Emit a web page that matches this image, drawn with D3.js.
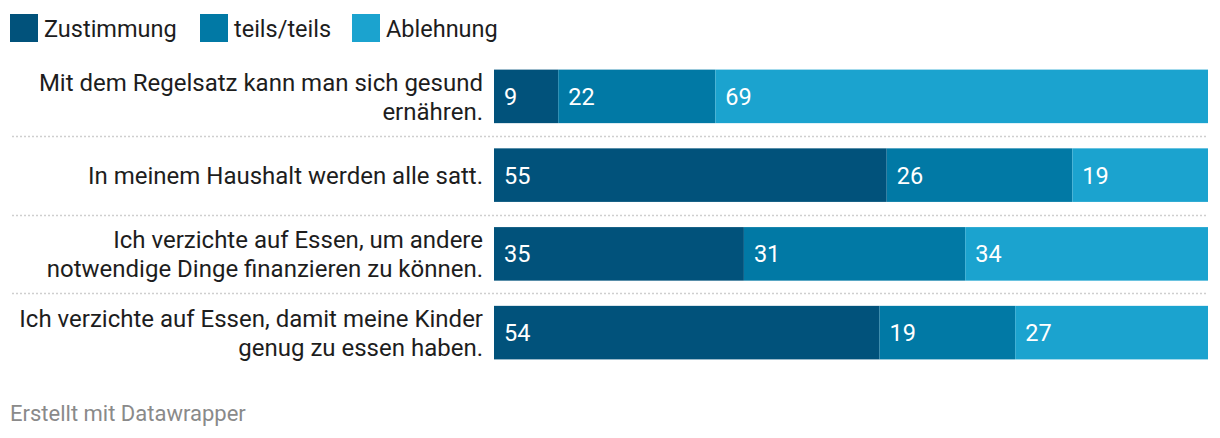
<!DOCTYPE html>
<html><head><meta charset="utf-8">
<script src="https://cdn.jsdelivr.net/npm/d3@7"></script>
<style>
html,body{margin:0;padding:0;background:#fff;}
svg{display:block;font-family:Roboto,"Noto Sans",sans-serif;}
</style></head>
<body>
<svg id="chart" width="1220" height="438"></svg>
<script>
const categories = [
  ["Mit dem Regelsatz kann man sich gesund", "ernähren."],
  ["In meinem Haushalt werden alle satt."],
  ["Ich verzichte auf Essen, um andere", "notwendige Dinge finanzieren zu können."],
  ["Ich verzichte auf Essen, damit meine Kinder", "genug zu essen haben."]
];
const seriesNames = ["Zustimmung", "teils/teils", "Ablehnung"];
const zustimmung = [9, 55, 35, 54];
const teils = [22, 26, 31, 19];
const ablehnung = [69, 19, 34, 27];
const colors = ["#01527b", "#0179a5", "#1ba3cf"];

const svg = d3.select("#chart");
const rows = categories.map((c, i) => ({ idx: i, label: c, vals: [zustimmung[i], teils[i], ablehnung[i]] }));

const x = d3.scaleLinear().domain([0, 100]).range([494, 1208]);
const y = d3.scaleBand().domain(d3.range(categories.length)).range([57, 372]).paddingInner(0.32).paddingOuter(0.16);

// legend
const legendX = [10, 200, 352];
const lg = svg.append("g");
seriesNames.forEach((n, i) => {
  lg.append("rect").attr("x", legendX[i]).attr("y", 14).attr("width", 28).attr("height", 28).attr("fill", colors[i]);
  lg.append("text").attr("x", legendX[i] + 34).attr("y", 36.5).attr("font-size", 23.5).attr("fill", "#1d1d1d").text(n);
});

// separators
for (let i = 1; i < categories.length; i++) {
  const yy = Math.round((y(i - 1) + y.bandwidth() + y(i)) / 2) + 0.5;
  svg.append("line").attr("x1", 12).attr("x2", 1208).attr("y1", yy).attr("y2", yy)
    .attr("stroke", "#cfcfcf").attr("stroke-width", 1.5).attr("stroke-dasharray", "2,2");
}

// bars
const g = svg.append("g");
rows.forEach(r => {
  let acc = 0;
  r.vals.forEach((v, j) => {
    const x0 = x(acc), x1 = x(acc + v);
    g.append("rect").attr("x", x0).attr("y", y(r.idx)).attr("width", x1 - x0).attr("height", y.bandwidth()).attr("fill", colors[j]);
    g.append("text").attr("x", x0 + 10).attr("y", y(r.idx) + y.bandwidth() / 2 + 8.5)
      .attr("font-size", 23.5).attr("fill", "#fff").text(v);
    acc += v;
  });
  const cy = y(r.idx) + y.bandwidth() / 2;
  const n = r.label.length;
  r.label.forEach((line, k) => {
    svg.append("text").attr("x", 483).attr("y", cy + 9 + (k - (n - 1) / 2) * 29)
      .attr("text-anchor", "end").attr("font-size", 24).attr("fill", "#1d1d1d").text(line);
  });
});

svg.append("text").attr("x", 10).attr("y", 421).attr("font-size", 22).attr("fill", "#8a8a8a").text("Erstellt mit Datawrapper");
</script>
</body></html>
